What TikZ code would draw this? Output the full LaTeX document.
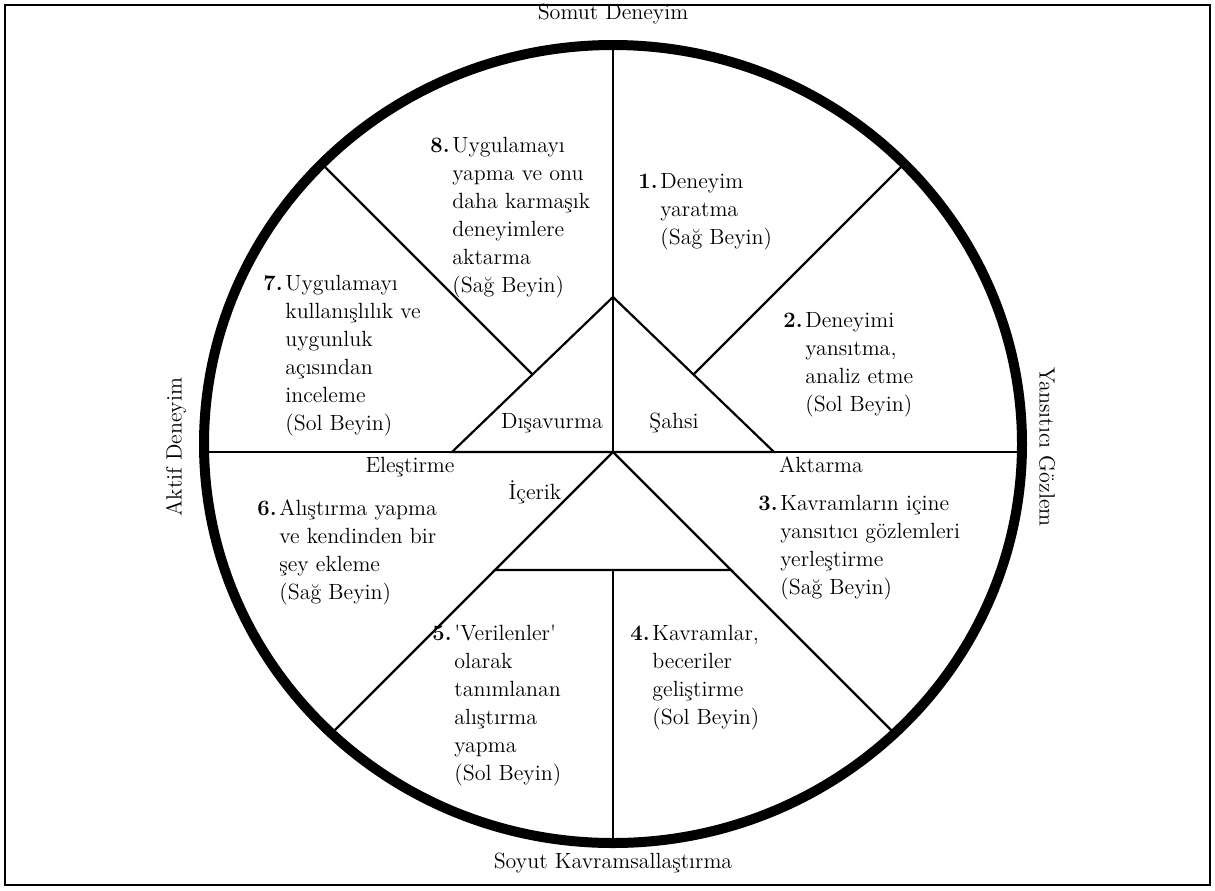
\documentclass[tikz,border=0pt]{standalone}
\usetikzlibrary{calc}
\tikzset{
  part/.style={line width=1.1pt},
  rim/.style={line width=5pt},
  stage/.style={anchor=base west, inner sep=0pt, font=\fontsize{11}{14}\selectfont},
  mode/.style={anchor=base, inner sep=0pt, font=\fontsize{11}{14}\selectfont},
  pole/.style={inner sep=0pt, font=\fontsize{11}{13}\selectfont}
}
\newcommand{\kolbstep}[2]{\makebox[11pt][l]{\textbf{#1}}\begin{tabular}[t]{@{}l@{}}#2\end{tabular}}
\begin{document}
\begin{tikzpicture}[x=0.5pt,y=-0.5pt]
  \useasboundingbox (0,0) rectangle (1215,890);
  \draw[line width=1pt] (5,5) rectangle (1210,885);
  % centre, poles and triangles
  \coordinate (c) at (613,444);
  \coordinate (o) at (613,452);
  \coordinate (top) at (613,45);
  \coordinate (bot) at (613,843);
  \coordinate (west) at (204,452);
  \coordinate (east) at (1022,452);
  \coordinate (ua) at (613,297);
  \coordinate (ul) at (452,452);
  \coordinate (ur) at (774,452);
  \coordinate (lb) at (613,570);
  \coordinate (ll) at (495,570);
  \coordinate (lr) at (731,570);
  \coordinate (ml) at ($(ua)!0.5!(ul)$);
  \coordinate (mr) at ($(ua)!0.5!(ur)$);
  \begin{scope}[part]
    \draw (top) -- (o);
    \draw (west) -- (east);
    \draw (lb) -- (bot);
    \draw (ua) -- (ul) -- (ur) -- cycle;
    \draw (o) -- (ll) -- (lr) -- cycle;
    \begin{scope}
      \clip (c) ellipse [x radius=409, y radius=399];
      \draw (ml) -- ($(ml)+(-300,-300)$);
      \draw (mr) -- ($(mr)+(300,-300)$);
      \draw (ll) -- ($(ll)+(-300,300)$);
      \draw (lr) -- ($(lr)+(300,300)$);
    \end{scope}
  \end{scope}
  \draw[rim] (c) ellipse [x radius=409, y radius=399];
  % poles
  \node[pole, anchor=base] (somut) at (613,19) {Somut Deneyim};
  \node[pole, anchor=base] (soyut) at (613,868) {Soyut Kavramsallaştırma};
  \node[pole, rotate=90] (aktif) at (176,447) {Aktif Deneyim};
  \node[pole, rotate=-90] (yansitici) at (1047,447) {Yansıtıcı Gözlem};
  % stages
  \node[stage] (s8) at (430,152) {\kolbstep{8.}{Uygulamayı\\yapma ve onu\\daha karmaşık\\deneyimlere\\aktarma\\(Sağ Beyin)}};
  \node[stage] (s1) at (638,188) {\kolbstep{1.}{Deneyim\\yaratma\\(Sağ Beyin)}};
  \node[stage] (s7) at (263,290) {\kolbstep{7.}{Uygulamayı\\kullanışlılık ve\\uygunluk\\açısından\\inceleme\\(Sol Beyin)}};
  \node[stage] (s2) at (783,327) {\kolbstep{2.}{Deneyimi\\yansıtma,\\analiz etme\\(Sol Beyin)}};
  \node[stage] (s6) at (257,515) {\kolbstep{6.}{Alıştırma yapma\\ve kendinden bir\\şey ekleme\\(Sağ Beyin)}};
  \node[stage] (s3) at (758,510) {\kolbstep{3.}{Kavramların içine\\yansıtıcı gözlemleri\\yerleştirme\\(Sağ Beyin)}};
  \node[stage] (s5) at (432,640) {\kolbstep{5.}{\textquotesingle Verilenler\textquotesingle\\olarak\\tanımlanan\\alıştırma\\yapma\\(Sol Beyin)}};
  \node[stage] (s4) at (630,640) {\kolbstep{4.}{Kavramlar,\\beceriler\\geliştirme\\(Sol Beyin)}};
  % modes
  \node[mode] (disavurma) at (552,428) {Dışavurma};
  \node[mode] (sahsi) at (674,428) {Şahsi};
  \node[mode] (icerik) at (535,499) {İçerik};
  \node[mode] (elestirme) at (410,472) {Eleştirme};
  \node[mode] (aktarma) at (821,472) {Aktarma};
\end{tikzpicture}
\end{document}
